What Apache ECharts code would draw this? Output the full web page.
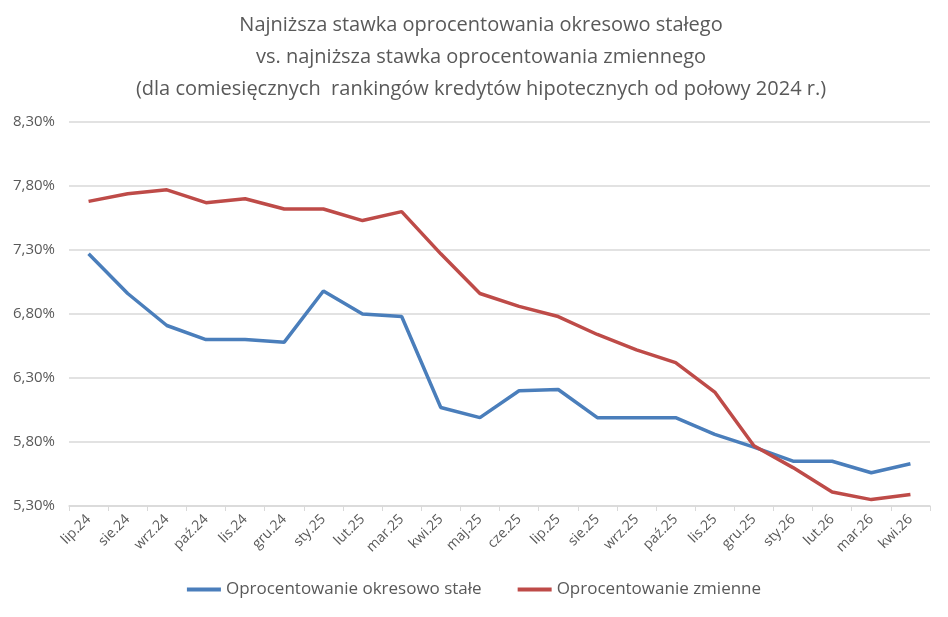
<!DOCTYPE html>
<html>
<head>
<meta charset="utf-8">
<script src="https://cdn.jsdelivr.net/npm/echarts@6/dist/echarts.min.js"></script>
<style>
  html, body { margin: 0; padding: 0; background: #fff; }
  #chart { width: 948px; height: 617px; }
</style>
</head>
<body>
<div id="chart"></div>
<script>
// miesiące (oś X)
var months = ['lip.24', 'sie.24', 'wrz.24', 'paź.24', 'lis.24', 'gru.24', 'sty.25', 'lut.25', 'mar.25', 'kwi.25', 'maj.25',
  'cze.25', 'lip.25', 'sie.25', 'wrz.25', 'paź.25', 'lis.25', 'gru.25', 'sty.26', 'lut.26', 'mar.26', 'kwi.26'];

// oprocentowanie okresowo stałe
var fixedRate = [7.27, 6.96, 6.71, 6.60, 6.60, 6.58, 6.98, 6.80, 6.78, 6.07, 5.99,
  6.20, 6.21, 5.99, 5.99, 5.99, 5.86, 5.76, 5.65, 5.65, 5.56, 5.63];

// oprocentowanie zmienne
var variableRate = [7.68, 7.74, 7.77, 7.67, 7.70, 7.62, 7.62, 7.53, 7.60, 7.27, 6.96,
  6.86, 6.78, 6.64, 6.52, 6.42, 6.19, 5.77, 5.60, 5.41, 5.35, 5.39];

var seriesNames = ['Oprocentowanie okresowo stałe', 'Oprocentowanie zmienne'];

(function () {
  var myChart = echarts.init(document.getElementById('chart'));
  var font = '"Open Sans", "Noto Sans", sans-serif';

  var option = {
    animation: false,
    title: {
      text: 'Najniższa stawka oprocentowania okresowo stałego\nvs. najniższa stawka oprocentowania zmiennego\n(dla comiesięcznych  rankingów kredytów hipotecznych od połowy 2024 r.)',
      left: 476,
      textAlign: 'center',
      top: 4,
      textStyle: {
        fontFamily: font,
        fontSize: 20,
        fontWeight: 'normal',
        color: '#595959',
        lineHeight: 32
      }
    },
    legend: {
      top: 576,
      left: 'center',
      itemWidth: 34,
      itemHeight: 4,
      itemGap: 36,
      icon: 'rect',
      textStyle: { fontFamily: font, fontSize: 17, color: '#595959' },
      data: seriesNames
    },
    grid: {
      top: 122,
      left: 69,
      right: 18,
      bottom: 111,
      containLabel: false
    },
    xAxis: {
      type: 'category',
      boundaryGap: true,
      data: months,
      axisLine: { lineStyle: { color: '#d9d9d9', width: 1.5 } },
      axisTick: { show: true, length: 5, lineStyle: { color: '#d9d9d9' } },
      axisLabel: {
        rotate: 45,
        interval: 0,
        margin: 11,
        fontFamily: font,
        fontSize: 14,
        color: '#595959'
      }
    },
    yAxis: {
      type: 'value',
      min: 5.3,
      max: 8.3,
      interval: 0.5,
      axisLine: { show: false },
      axisTick: { show: false },
      splitLine: { lineStyle: { color: '#d9d9d9', width: 1.5 } },
      axisLabel: {
        margin: 14,
        fontFamily: font,
        fontSize: 15,
        color: '#595959',
        formatter: function (v) { return v.toFixed(2).replace('.', ',') + '%'; }
      }
    },
    series: [{
      name: seriesNames[0],
      type: 'line',
      data: fixedRate,
      showSymbol: false,
      lineStyle: { width: 3.5, color: '#4a7ebb' },
      itemStyle: { color: '#4a7ebb' }
    }, {
      name: seriesNames[1],
      type: 'line',
      data: variableRate,
      showSymbol: false,
      lineStyle: { width: 3.5, color: '#be4b48' },
      itemStyle: { color: '#be4b48' }
    }]
  };

  myChart.setOption(option);
  window.addEventListener('resize', function () {
    myChart.resize();
  });
})();
</script>
</body>
</html>
